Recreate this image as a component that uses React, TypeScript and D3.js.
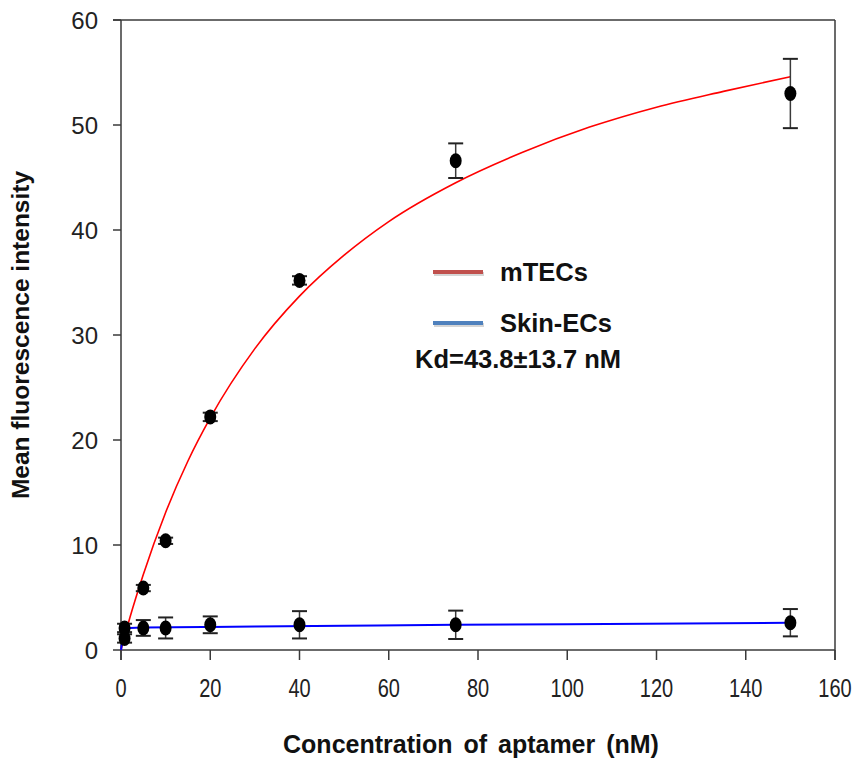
import React from 'react';
import * as d3 from 'd3';

// measured points (mean ± error)
const mtecConc = [0.8, 5, 10, 20, 40, 75, 150];
const mtecMean = [1.1, 5.9, 10.4, 22.2, 35.2, 46.6, 53.0];
const mtecErr = [0.4, 0.3, 0.3, 0.4, 0.4, 1.65, 3.3];

const skinConc = [0.8, 5, 10, 20, 40, 75, 150];
const skinMean = [2.1, 2.1, 2.1, 2.4, 2.4, 2.4, 2.6];
const skinErr = [0.4, 0.75, 1.0, 0.8, 1.3, 1.35, 1.3];

// fitted curves
const mtecFitX = [0, 2, 5, 10, 15, 20, 30, 40, 50, 60, 75, 90, 105, 120, 135, 150];
const mtecFitY = [0, 3.1, 7.2, 13.1, 18.0, 22.1, 28.7, 33.7, 37.6, 40.8, 44.5, 47.4, 49.8, 51.7, 53.2, 54.6];
const skinFitX = [0, 0.5, 1, 2, 5, 20, 50, 75, 100, 150];
const skinFitY = [0, 1.3, 1.9, 2.1, 2.15, 2.2, 2.3, 2.4, 2.45, 2.6];

const xTicks = [0, 20, 40, 60, 80, 100, 120, 140, 160];
const yTicks = [0, 10, 20, 30, 40, 50, 60];

const legendLabels = ['mTECs', 'Skin-ECs'];
const legendColors = ['#c0504d', '#4f81bd'];
const kdLabel = 'Kd=43.8\u00b113.7 nM';

const font = 'Liberation Sans, Arial, Helvetica, sans-serif';

const App = () => {
  const width = 855;
  const height = 763;
  const margin = { top: 20, right: 20, bottom: 113, left: 121 };

  const x = d3.scaleLinear().domain([0, 160]).range([margin.left, width - margin.right]);
  const y = d3.scaleLinear().domain([0, 60]).range([height - margin.bottom, margin.top]);

  const line = d3.line<[number, number]>()
    .x(d => x(d[0]))
    .y(d => y(d[1]))
    .curve(d3.curveMonotoneX);

  const mtecFit = mtecFitX.map((v, i) => [v, mtecFitY[i]] as [number, number]);
  const skinFit = skinFitX.map((v, i) => [v, skinFitY[i]] as [number, number]);

  const axisColor = '#3a3a3a';
  const x0 = x(0);
  const x1 = x(160);
  const y0 = y(0);
  const y1 = y(60);

  const points = (conc: number[], mean: number[], err: number[], key: string) =>
    conc.map((c, i) => {
      const cx = x(c);
      const top = y(mean[i] + err[i]);
      const bot = y(mean[i] - err[i]);
      return (
        <g key={key + i}>
          <line x1={cx} x2={cx} y1={top} y2={bot} stroke={axisColor} strokeWidth={1.5} />
          <line x1={cx - 7.5} x2={cx + 7.5} y1={top} y2={top} stroke="#222" strokeWidth={2} />
          <line x1={cx - 7.5} x2={cx + 7.5} y1={bot} y2={bot} stroke="#222" strokeWidth={2} />
          <ellipse cx={cx} cy={y(mean[i])} rx={6} ry={7.5} fill="#000" />
        </g>
      );
    });

  return (
    <svg width={width} height={height} style={{ position: 'absolute', left: 0, top: 0, background: '#fff' }}>
      <rect width={width} height={height} fill="#fff" />

      {/* frame */}
      <line x1={x0 - 8} x2={x1} y1={y1} y2={y1} stroke={axisColor} strokeWidth={1.5} />
      <line x1={x1} x2={x1} y1={y1} y2={y0 + 10} stroke={axisColor} strokeWidth={1.5} />
      <line x1={x0} x2={x1} y1={y0} y2={y0} stroke={axisColor} strokeWidth={1.5} />
      <line x1={x0} x2={x0} y1={y1} y2={y0 + 10} stroke={axisColor} strokeWidth={1.5} />

      {/* y ticks */}
      {yTicks.map(t => (
        <g key={'y' + t}>
          <line x1={x0 - 8} x2={x0} y1={y(t)} y2={y(t)} stroke={axisColor} strokeWidth={1.5} />
          <text x={98} y={y(t) + 8.5} textAnchor="end" fontFamily={font} fontSize={24} fill="#222">{t}</text>
        </g>
      ))}

      {/* x ticks */}
      {xTicks.map(t => (
        <g key={'x' + t}>
          <line x1={x(t)} x2={x(t)} y1={y0} y2={y0 + 10} stroke={axisColor} strokeWidth={1.5} />
          <text transform={`translate(${x(t)},${y0 + 47}) scale(0.8,1)`} textAnchor="middle" fontFamily={font} fontSize={25} fill="#222">{t}</text>
        </g>
      ))}

      {/* axis titles */}
      <text transform={`translate(29,${(y0 + y1) / 2}) rotate(-90)`} textAnchor="middle" fontFamily={font} fontWeight="bold" fontSize={24.5} fill="#111">Mean fluorescence intensity</text>
      <text x={471} y={753} textAnchor="middle" fontFamily={font} fontWeight="bold" fontSize={25} fill="#111" wordSpacing={4}>Concentration of aptamer (nM)</text>

      {/* fit curves */}
      <path d={line(mtecFit) ?? ''} fill="none" stroke="#ff0000" strokeWidth={1.6} />
      <path d={line(skinFit) ?? ''} fill="none" stroke="#0000ff" strokeWidth={2} />

      {points(skinConc, skinMean, skinErr, 's')}
      {points(mtecConc, mtecMean, mtecErr, 'm')}

      {/* legend */}
      {legendLabels.map((l, i) => {
        const ly = 272 + i * 51;
        return (
          <g key={l}>
            <line x1={434} x2={484} y1={ly + 2} y2={ly + 2} stroke="#888" strokeOpacity={0.35} strokeWidth={4} />
            <line x1={433} x2={483} y1={ly} y2={ly} stroke={legendColors[i]} strokeWidth={4} />
            <text x={500} y={ly + 9} fontFamily={font} fontWeight="bold" fontSize={25.5} fill="#111">{l}</text>
          </g>
        );
      })}
      <text x={415} y={368} fontFamily={font} fontWeight="bold" fontSize={25.5} fill="#111">{kdLabel}</text>
    </svg>
  );
};

export default App;
